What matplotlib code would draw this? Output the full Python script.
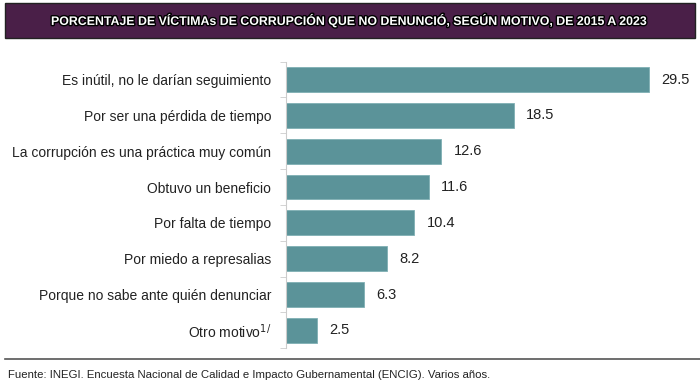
import matplotlib.pyplot as plt
import matplotlib.patheffects as pe
import numpy as np

# data
motivos = ['Es inútil, no le darían seguimiento',
           'Por ser una pérdida de tiempo',
           'La corrupción es una práctica muy común',
           'Obtuvo un beneficio',
           'Por falta de tiempo',
           'Por miedo a represalias',
           'Porque no sabe ante quién denunciar',
           'Otro motivo$^{1/}$']
porcentaje = [29.5, 18.5, 12.6, 11.6, 10.4, 8.2, 6.3, 2.5]

fig = plt.figure(figsize=(7, 3.9), dpi=100)

# title band
fig.patches.append(plt.Rectangle((0.007, 0.903), 0.986, 0.09, transform=fig.transFigure,
                                 facecolor='#4a1f48', edgecolor='#222222', linewidth=1))
fig.text(0.5, 0.947, 'PORCENTAJE DE VÍCTIMAs DE CORRUPCIÓN QUE NO DENUNCIÓ, SEGÚN MOTIVO, DE 2015 A 2023',
         ha='center', va='center', color='white', fontsize=8.9, fontweight='bold',
         family='Liberation Sans',
         path_effects=[pe.withStroke(linewidth=2, foreground='black')])

ax = fig.add_axes([0.409, 0.107, 0.59, 0.735])
y = np.arange(len(motivos))
ax.barh(y, porcentaje, height=0.69, color='#5b9399', edgecolor='#7fb0b4', linewidth=0.6)
for yi, v in zip(y, porcentaje):
    ax.text(v + 1.0, yi, f'{v:.1f}', va='center', ha='left', fontsize=10.5,
            family='Liberation Sans', color='#222222')
ax.set_yticks(y)
ax.set_yticklabels(motivos, fontsize=10, family='Liberation Sans', color='#222222')
ax.set_yticks(np.arange(len(motivos) + 1) - 0.5, minor=True)
ax.tick_params(axis='y', which='major', length=0, pad=11)
ax.tick_params(axis='y', which='minor', length=4, color='#cccccc')
ax.set_ylim(len(motivos) - 0.5, -0.5)
ax.set_xlim(0, 33.6)
ax.set_xticks([])
for s in ['top', 'right', 'bottom']:
    ax.spines[s].set_visible(False)
ax.spines['left'].set_color('#cccccc')

# separator and source
fig.add_artist(plt.Line2D([0.007, 1.0], [0.079, 0.079], color='#555555', linewidth=1.2))
fig.text(0.012, 0.038, 'Fuente: INEGI. Encuesta Nacional de Calidad e Impacto Gubernamental (ENCIG). Varios años.',
         ha='left', va='center', fontsize=8.2, family='Liberation Sans', color='#222222')

fig.savefig('out.png', dpi=100)
